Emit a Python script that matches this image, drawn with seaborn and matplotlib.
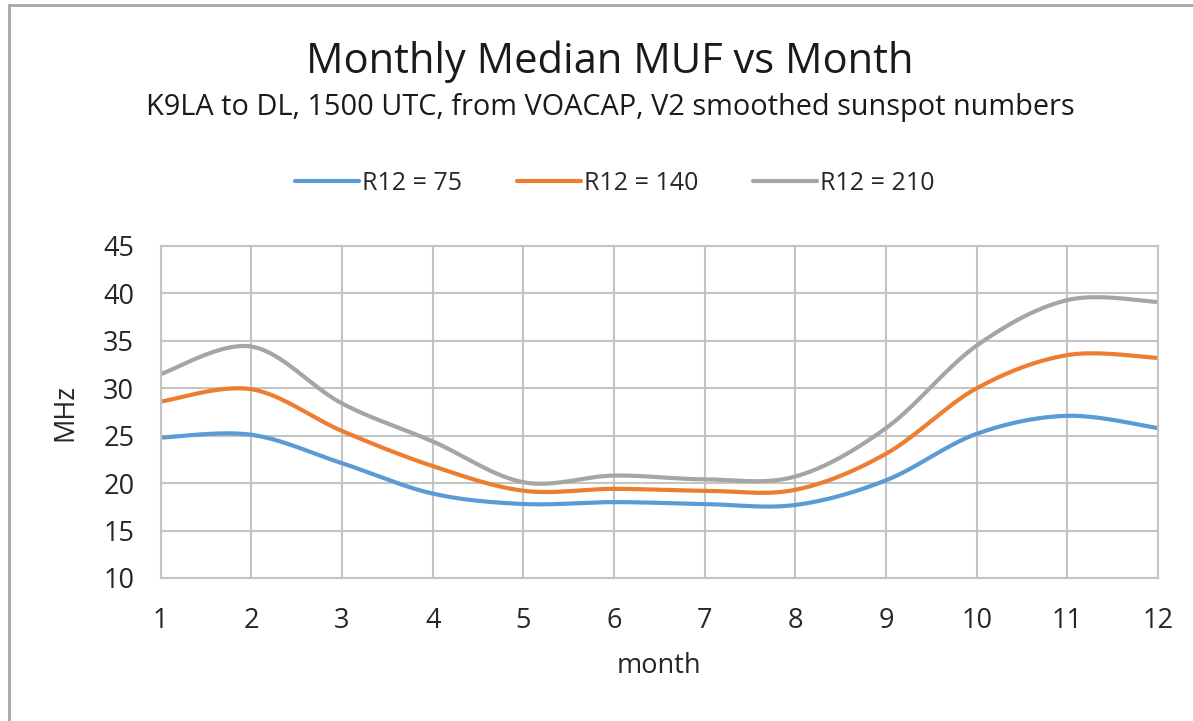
import numpy as np
import pandas as pd
import matplotlib
matplotlib.use("Agg")
import matplotlib.pyplot as plt
import seaborn as sns
from matplotlib.patches import Rectangle

months = list(range(1, 13))
series_names = ["R12 = 75", "R12 = 140", "R12 = 210"]
r12_75 = [24.8, 25.1, 22.1, 18.9, 17.8, 18.0, 17.8, 17.7, 20.3, 25.2, 27.1, 25.8]
r12_140 = [28.6, 29.9, 25.5, 21.8, 19.2, 19.4, 19.2, 19.3, 23.1, 30.0, 33.5, 33.2]
r12_210 = [31.5, 34.4, 28.4, 24.4, 20.1, 20.8, 20.4, 20.7, 25.8, 34.5, 39.3, 39.1]
colors = ["#5B9BD5", "#ED7D31", "#A5A5A5"]

W, H = 1193, 721


def smooth(xs, ys, n=40):
    """Excel-style smoothed line (Catmull-Rom Bezier through the points)."""
    x = np.asarray(xs, float)
    y = np.asarray(ys, float)
    px = np.concatenate([[x[0]], x, [x[-1]]])
    py = np.concatenate([[y[0]], y, [y[-1]]])
    ox, oy = [], []
    t = np.linspace(0, 1, n, endpoint=False)
    for i in range(len(x) - 1):
        p0 = np.array([px[i + 1], py[i + 1]])
        p3 = np.array([px[i + 2], py[i + 2]])
        p1 = p0 + (np.array([px[i + 2], py[i + 2]]) - np.array([px[i], py[i]])) / 6
        p2 = p3 - (np.array([px[i + 3], py[i + 3]]) - np.array([px[i + 1], py[i + 1]])) / 6
        b = ((1 - t) ** 3)[:, None] * p0 + (3 * (1 - t) ** 2 * t)[:, None] * p1 \
            + (3 * (1 - t) * t ** 2)[:, None] * p2 + (t ** 3)[:, None] * p3
        ox.extend(b[:, 0]); oy.extend(b[:, 1])
    ox.append(x[-1]); oy.append(y[-1])
    return ox, oy


frames = []
for name, vals in zip(series_names, [r12_75, r12_140, r12_210]):
    sx, sy = smooth(months, vals)
    frames.append(pd.DataFrame({"month": sx, "MHz": sy, "series": name}))
df = pd.concat(frames, ignore_index=True)

sns.set_theme(style="white")
plt.rcParams["font.family"] = ["Open Sans", "DejaVu Sans"]

fig = plt.figure(figsize=(W / 100, H / 100), dpi=100)
fig.patch.set_facecolor("white")

# chart border
fig.patches.append(Rectangle((9 / W, -0.05), 1.2, (721 - 5) / H + 0.05, transform=fig.transFigure,
                             fill=False, edgecolor="#A6A6A6", linewidth=2))

left, right, top, bottom = 160.7, 1158, 246, 578
ax = fig.add_axes([left / W, (H - bottom) / H, (right - left) / W, (bottom - top) / H])

sns.lineplot(data=df, x="month", y="MHz", hue="series", palette=colors,
             hue_order=series_names, linewidth=3, ax=ax, sort=False, legend=True)

ax.set_xlim(1, 12)
ax.set_ylim(10, 45)
ax.set_xticks(months)
ax.set_yticks(range(10, 50, 5))
ax.grid(True, color="#C4C4C4", linewidth=1.5)
for s in ax.spines.values():
    s.set_color("#C4C4C4")
    s.set_linewidth(1.5)
ax.tick_params(axis="both", length=0, labelsize=19.5, colors="#262626")
ax.tick_params(axis="y", pad=19)
ax.tick_params(axis="x", pad=21)
ax.set_xlabel("month", fontsize=19.5, color="#262626", labelpad=12)
ax.set_ylabel("MHz", fontsize=19.5, color="#262626", labelpad=17)

handles, labels = ax.get_legend_handles_labels()
ax.legend_.remove()
fig.legend(handles, labels, loc="center", bbox_to_anchor=(615 / W, 1 - 183 / H), ncol=3,
           frameon=False, fontsize=18, handlelength=2.55, handletextpad=0.12,
           columnspacing=2.2, labelcolor="#262626")

fig.text(610 / W, 1 - 62 / H, "Monthly Median MUF vs Month", ha="center", va="center",
         fontsize=30, color="#1a1a1a")
fig.text(610 / W, 1 - 108 / H, "K9LA to DL, 1500 UTC, from VOACAP, V2 smoothed sunspot numbers",
         ha="center", va="center", fontsize=20.8, color="#1a1a1a")

fig.savefig("out.png", dpi=100)
